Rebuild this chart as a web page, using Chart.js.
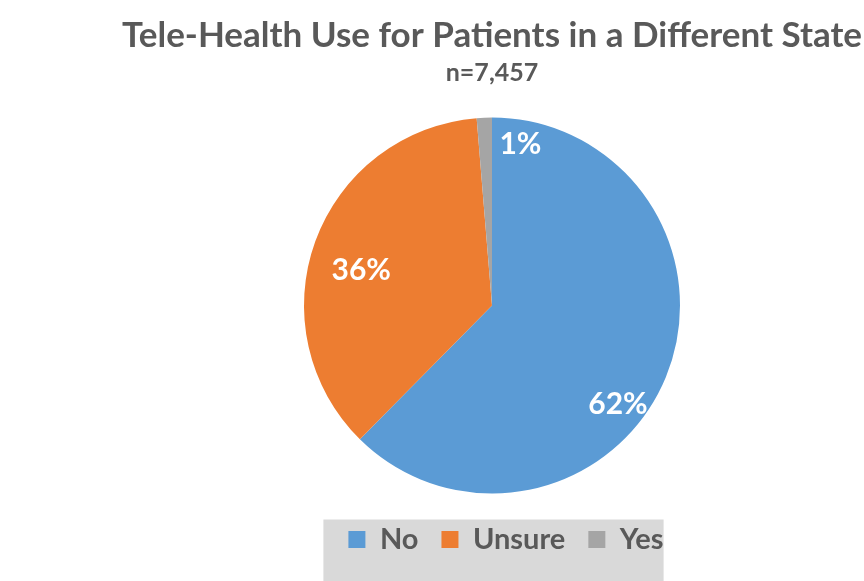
<!DOCTYPE html>
<html>
<head>
<meta charset="utf-8">
<script src="https://cdn.jsdelivr.net/npm/chart.js@4"></script>
<style>
  html, body { margin: 0; padding: 0; background: #fff; }
  #wrap { width: 864px; height: 581px; }
</style>
</head>
<body>
<div id="wrap"><canvas id="pieChart" width="864" height="581"></canvas></div>
<script>
// dados
const categories = ['No', 'Unsure', 'Yes'];
const shares = [62.4, 36.3, 1.3];
const sliceColors = ['#5B9BD5', '#ED7D31', '#A5A5A5'];
const titleText = 'Tele-Health Use for Patients in a Different State';
const subtitleText = 'n=7,457';

const grey = '#595959';
const fontFam = 'Lato, "Open Sans", sans-serif';

// posição das etiquetas (ângulo em graus a partir do topo, fração do raio)
const labelSpots = [[128, 0.85], [285, 0.72], [10, 0.87]];

// a legenda do original fica um pouco à direita do centro
const legendShift = 14;

const legendBg = {
    id: 'legendBg',
    afterLayout(chart) {
        chart.legend.left += legendShift;
        chart.legend.right += legendShift;
    },
    beforeDraw(chart) {
        const items = chart.legend.legendHitBoxes;
        if (!items || !items.length) return;
        const ctx = chart.ctx;
        const first = items[0];
        const last = items[items.length - 1];
        const mid = first.top + first.height / 2;
        const x0 = first.left - 25;
        const x1 = last.left + last.width;
        ctx.save();
        ctx.fillStyle = '#D9D9D9';
        ctx.fillRect(x0, mid - 20, x1 - x0, chart.height - mid + 20);
        ctx.restore();
    }
};

const sliceLabels = {
    id: 'sliceLabels',
    afterDatasetsDraw(chart) {
        const ctx = chart.ctx;
        const arcs = chart.getDatasetMeta(0).data;
        ctx.save();
        ctx.fillStyle = '#FFFFFF';
        ctx.font = 'bold 30px ' + fontFam;
        ctx.textAlign = 'center';
        ctx.textBaseline = 'middle';
        arcs.forEach((arc, i) => {
            const a = labelSpots[i][0] * Math.PI / 180;
            const r = arc.outerRadius * labelSpots[i][1];
            const x = arc.x + Math.sin(a) * r;
            const y = arc.y - Math.cos(a) * r;
            ctx.fillText(Math.round(shares[i]) + '%', x, y);
        });
        ctx.restore();
    }
};

const ctx = document.getElementById('pieChart').getContext('2d');

new Chart(ctx, {
    type: 'pie',
    data: {
        labels: categories,
        datasets: [{
            data: shares,
            backgroundColor: sliceColors,
            borderWidth: 0,
            radius: 188
        }]
    },
    options: {
        responsive: false,
        animation: false,
        layout: {
            padding: { left: 120, right: 0, top: 0, bottom: 17 }
        },
        plugins: {
            tooltip: { enabled: false },
            title: {
                display: true,
                text: titleText,
                color: grey,
                font: { family: fontFam, size: 35, weight: 'bold' },
                padding: { top: 15, bottom: 1 }
            },
            subtitle: {
                display: true,
                text: subtitleText,
                color: grey,
                font: { family: fontFam, size: 25, weight: 'bold' },
                padding: { top: 0, bottom: 21 }
            },
            legend: {
                position: 'bottom',
                labels: {
                    color: grey,
                    font: { family: fontFam, size: 29, weight: 'bold' },
                    boxWidth: 17,
                    boxHeight: 17,
                    padding: 23
                }
            }
        }
    },
    plugins: [legendBg, sliceLabels]
});
</script>
</body>
</html>
